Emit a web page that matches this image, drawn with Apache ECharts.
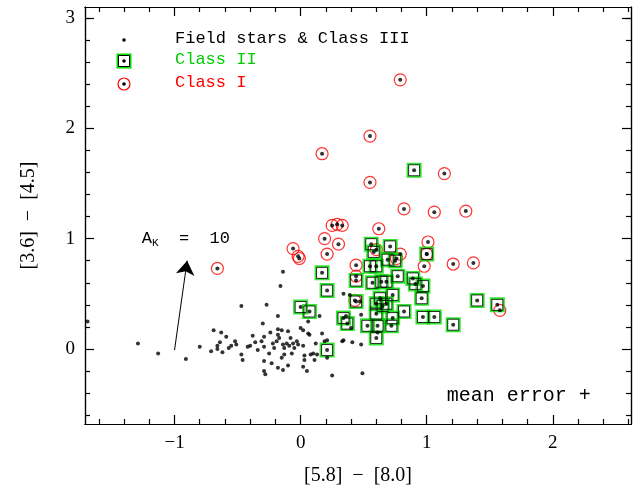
<!DOCTYPE html>
<html><head><meta charset="utf-8">
<script src="https://cdn.jsdelivr.net/npm/echarts@6/dist/echarts.min.js"></script>
<style>html,body{margin:0;padding:0;background:#fff}#c{width:644px;height:491px}</style>
</head><body><div id="c"></div>
<script>
const fieldStars = [[-1.69,0.25],[-1.29,0.05],[-1.13,-0.04],[-0.91,-0.09],[-0.80,0.02],[-0.71,-0.02],[-0.69,0.17],[-0.63,0.15],[-0.59,0.11],[-0.64,0.06],[-0.66,0.03],[-0.66,0.00],[-0.62,-0.03],[-0.57,0.01],[-0.55,0.03],[-0.52,0.07],[-0.51,0.04],[-0.47,0.39],[-0.47,-0.05],[-0.46,-0.10],[-0.42,0.02],[-0.40,0.03],[-0.36,0.06],[-0.34,-0.01],[-0.31,0.07],[-0.30,0.23],[-0.29,0.11],[-0.27,0.40],[-0.29,0.02],[-0.29,-0.11],[-0.29,-0.20],[-0.28,-0.23],[-0.25,-0.04],[-0.23,-0.13],[-0.22,0.05],[-0.21,0.01],[-0.19,0.07],[-0.18,0.30],[-0.18,0.18],[-0.18,0.13],[-0.17,0.10],[-0.15,0.17],[-0.14,0.04],[-0.13,0.01],[-0.13,-0.05],[-0.15,-0.08],[-0.18,-0.17],[-0.14,-0.19],[-0.11,0.05],[-0.10,0.16],[-0.09,0.03],[-0.07,-0.04],[-0.10,-0.15],[-0.06,0.05],[-0.05,0.01],[-0.03,0.07],[-0.02,0.04],[0.00,0.19],[0.02,0.17],[0.02,0.03],[0.03,-0.06],[0.03,-0.10],[0.02,-0.16],[0.05,-0.20],[0.06,0.14],[0.07,0.13],[0.08,-0.05],[0.10,-0.04],[0.11,-0.10],[0.13,-0.05],[0.15,0.30],[0.17,0.14],[0.19,0.07],[0.21,0.08],[0.25,-0.24],[0.34,0.50],[0.34,0.08],[0.41,0.06],[0.48,0.04],[0.49,-0.22],[0.39,0.49],[0.06,0.25],[0.47,0.43],[0.36,0.30],[0.21,-0.08],[0.40,0.19],[0.48,0.31],[0.61,0.15],[-0.14,0.70],[-0.16,0.57],[0.33,0.07],[-0.38,0.12],[-0.24,0.15],[-0.08,0.10],[0.12,0.05]];
const classII = [[0.56,0.95],[0.58,0.88],[0.71,0.93],[0.69,0.81],[0.75,0.80],[1.00,0.86],[0.55,0.75],[0.60,0.75],[0.17,0.69],[0.44,0.62],[0.77,0.66],[0.89,0.64],[0.91,0.59],[0.97,0.57],[0.21,0.53],[0.57,0.60],[0.64,0.61],[0.68,0.61],[0.96,0.46],[0.73,0.49],[0.63,0.46],[0.60,0.41],[0.68,0.41],[0.65,0.39],[0.82,0.34],[0.60,0.32],[0.44,0.43],[0.00,0.38],[0.07,0.34],[0.34,0.28],[0.37,0.23],[0.73,0.28],[0.72,0.21],[0.53,0.21],[0.61,0.21],[0.97,0.29],[1.06,0.29],[1.21,0.22],[1.40,0.44],[1.56,0.40],[0.60,0.10],[0.21,-0.01],[0.90,1.62]];
const classI = [[-0.66,0.73],[0.17,1.77],[0.55,1.93],[0.79,2.44],[0.55,1.51],[-0.06,0.91],[-0.02,0.84],[-0.01,0.82],[0.25,1.12],[0.29,1.13],[0.33,1.12],[0.19,1.00],[0.30,0.95],[0.21,0.86],[0.44,0.76],[0.44,0.66],[0.62,1.09],[0.82,1.27],[1.06,1.24],[1.14,1.59],[1.31,1.25],[1.21,0.77],[1.37,0.78],[1.01,0.97],[1.00,0.86],[0.98,0.75],[0.43,0.44],[0.79,0.86],[0.76,0.82],[0.60,0.90],[1.58,0.35]];
const xMajor = [-1,0,1,2];
const xMinor = [-1.6,-1.4,-1.2,-0.8,-0.6,-0.4,-0.2,0.2,0.4,0.6,0.8,1.2,1.4,1.6,1.8,2.2,2.4,2.6];
const yMajor = [0,1,2,3];
const yMinor = [-0.6,-0.4,-0.2,0.2,0.4,0.6,0.8,1.2,1.4,1.6,1.8,2.2,2.4,2.6,2.8,3.0];
const arrow = [[-1.0,-0.01],[-0.9,0.80]];
const FONT = '"Liberation Serif", serif';
const MONO = '"Liberation Mono", monospace';
const X = [-1.71, 2.62], Y = [-0.68, 3.1];
function ax(pos, vals, len, labels, extra) {
  return Object.assign({
    type:'value', position:pos, min:(pos==='bottom'||pos==='top')?X[0]:Y[0], max:(pos==='bottom'||pos==='top')?X[1]:Y[1],
    axisLine:{show:true, onZero:false, lineStyle:{color:'#000',width:1.2}},
    axisTick:{show:true, inside:true, length:len, customValues:vals, lineStyle:{color:'#000',width:1.2}},
    axisLabel:labels?{show:true, customValues:vals, fontFamily:FONT, fontSize:19, color:'#000', margin:10,
      formatter:v=>v<0?'\u2212'+Math.abs(v):String(v)}:{show:false},
    splitLine:{show:false}
  }, extra||{});
}
const chart = echarts.init(document.getElementById('c'));
const grid = {left:85, right:13, top:7, bottom:64};
const nameStyle = {fontFamily:FONT,fontSize:20,color:'#000'};
chart.setOption({
  animation:false,
  grid:grid,
  xAxis:[ax('bottom',xMajor,9,true,{name:'[5.8]  \u2212  [8.0]',nameLocation:'middle',nameGap:42,nameTextStyle:nameStyle}),
         ax('bottom',xMinor,5,false), ax('top',xMajor,9,false), ax('top',xMinor,5,false)],
  yAxis:[ax('left',yMajor,9,true,{name:'[3.6]  \u2212  [4.5]',nameLocation:'middle',nameGap:46,nameTextStyle:nameStyle}),
         ax('left',yMinor,5,false), ax('right',yMajor,9,false), ax('right',yMinor,5,false)],
  series:[
    {type:'scatter', data:classI, symbol:'circle', symbolSize:12, itemStyle:{color:'transparent', borderColor:'#ff0000', borderWidth:1.2}},
    {type:'scatter', data:classII, symbol:'rect', symbolSize:13, itemStyle:{color:'transparent', borderColor:'#00dd00', borderWidth:2}},
    {type:'scatter', data:classII, symbol:'rect', symbolSize:11, itemStyle:{color:'transparent', borderColor:'#000', borderWidth:1}},
    {type:'scatter', data:fieldStars.concat(classII, classI), symbol:'circle', symbolSize:4, itemStyle:{color:'#000'}},
    {type:'lines', coordinateSystem:'cartesian2d', polyline:false, symbol:['none','arrow'], symbolSize:14,
     data:[{coords:arrow}], lineStyle:{color:'#000', width:1, opacity:1}},
    {type:'scatter', data:[[-1.0,-0.01]], symbolSize:0, silent:true,
     markPoint:{symbol:'circle', symbolSize:0, data:[
       {coord:[-0.91,1.0], label:{show:true, formatter:'A{s|K}  =  10', fontFamily:MONO, fontSize:17, color:'#000', rich:{s:{fontFamily:MONO,fontSize:11,color:'#000',verticalAlign:'bottom',padding:[8,0,0,0]}}}},
       {coord:[1.73,-0.42], label:{show:true, formatter:'mean error +', fontFamily:MONO, fontSize:20, color:'#000'}}
     ]}}
  ],
  graphic:[
    {type:'circle', shape:{cx:124, cy:40, r:1.8}, style:{fill:'#000'}},
    {type:'text', left:175, top:30, style:{text:'Field stars & Class III', font:'17px "Liberation Mono", monospace', fill:'#000'}},
    {type:'rect', shape:{x:117.5, y:54.5, width:13, height:13}, style:{fill:'none', stroke:'#00dd00', lineWidth:2}},
    {type:'rect', shape:{x:118.5, y:55.5, width:11, height:11}, style:{fill:'none', stroke:'#000', lineWidth:1}},
    {type:'circle', shape:{cx:124, cy:61, r:1.8}, style:{fill:'#000'}},
    {type:'text', left:175, top:51, style:{text:'Class II', font:'17px "Liberation Mono", monospace', fill:'#00cc00'}},
    {type:'circle', shape:{cx:124, cy:84, r:6}, style:{fill:'none', stroke:'#ff0000', lineWidth:1.2}},
    {type:'circle', shape:{cx:124, cy:84, r:1.8}, style:{fill:'#000'}},
    {type:'text', left:175, top:74, style:{text:'Class I', font:'17px "Liberation Mono", monospace', fill:'#ff0000'}}
  ]
});
</script></body></html>
